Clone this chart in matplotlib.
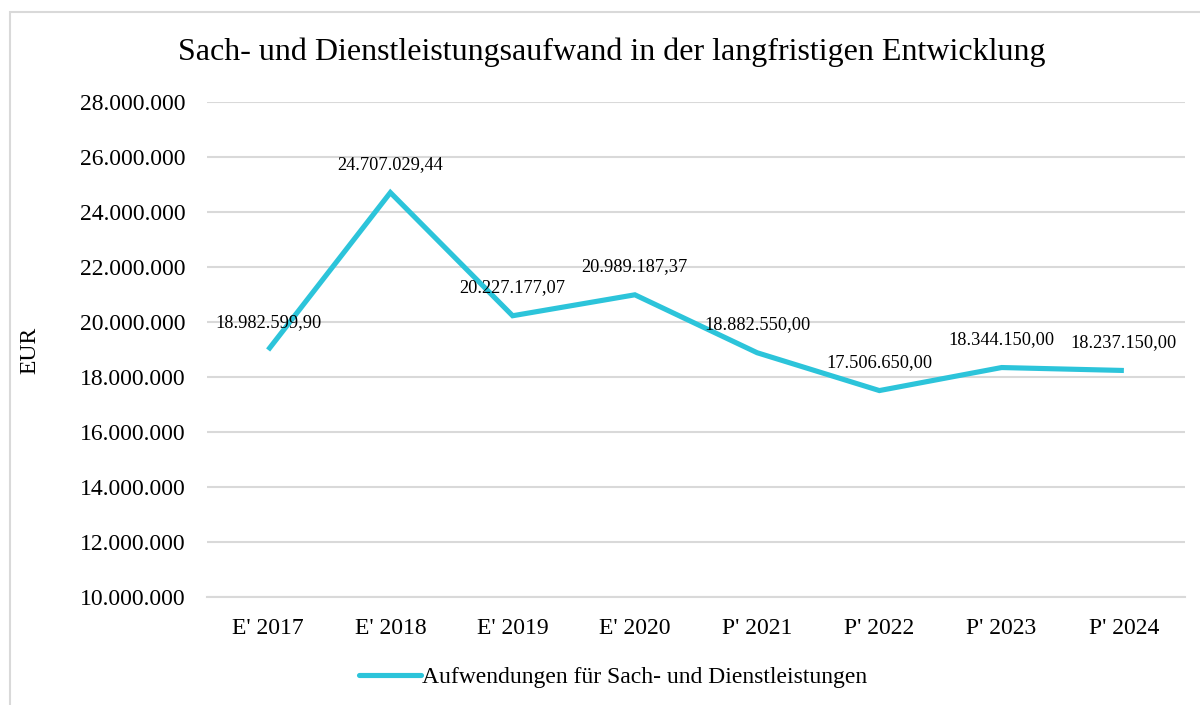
import matplotlib
matplotlib.use("Agg")
import matplotlib.pyplot as plt
from matplotlib.patches import Rectangle
from matplotlib.lines import Line2D
from matplotlib.ticker import FuncFormatter

categories = ["E' 2017", "E' 2018", "E' 2019", "E' 2020", "P' 2021", "P' 2022", "P' 2023", "P' 2024"]
values = [18982599.90, 24707029.44, 20227177.07, 20989187.37, 18882550.00, 17506650.00, 18344150.00, 18237150.00]
value_labels = ["18.982.599,90", "24.707.029,44", "20.227.177,07", "20.989.187,37",
                "18.882.550,00", "17.506.650,00", "18.344.150,00", "18.237.150,00"]
y_ticks = [10000000, 12000000, 14000000, 16000000, 18000000, 20000000, 22000000, 24000000, 26000000, 28000000]
title = "Sach- und Dienstleistungsaufwand in der langfristigen Entwicklung"
series_name = "Aufwendungen für Sach- und Dienstleistungen"

plt.rcParams['font.family'] = ['Liberation Serif', 'DejaVu Serif']
color = "#2CC4DA"

fig = plt.figure(figsize=(12, 7.05), dpi=100)
fig.patches.append(Rectangle((10/1200, -0.1), 1.2, 1.1 - 12/705, transform=fig.transFigure,
                             fill=False, edgecolor="#D9D9D9", linewidth=1.5, zorder=0))

ax = fig.add_axes([207/1200, 1 - 597/705, 978/1200, (597 - 102)/705])
x = list(range(len(categories)))
ax.plot(x, values, color=color, linewidth=3.7, solid_joinstyle='miter', solid_capstyle='butt', zorder=3)
ax.set_xlim(-0.5, len(categories) - 0.5)
ax.set_ylim(10000000, 28000000)
ax.set_yticks(y_ticks)
ax.yaxis.set_major_formatter(FuncFormatter(lambda v, p: f"{int(v):,}".replace(",", ".")))
ax.set_xticks(x)
ax.set_xticklabels(categories)
ax.tick_params(axis='both', length=0, labelsize=17, colors="black")
ax.tick_params(axis='y', pad=15.5)
ax.tick_params(axis='x', pad=15)
ax.grid(axis='y', color="#D9D9D9", linewidth=1.5)
ax.set_axisbelow(True)
for s in ax.spines.values():
    s.set_visible(False)
ax.spines['bottom'].set_visible(True)
ax.spines['bottom'].set_color("#D9D9D9")
ax.spines['bottom'].set_linewidth(1.5)

for xi, v, lab in zip(x, values, value_labels):
    ax.annotate(lab, (xi, v), xytext=(0, 20), textcoords='offset points',
                ha='center', va='center', fontsize=13.2, color="black", zorder=4)

fig.text(612/1200, 1 - 52/705, title, ha='center', va='center', fontsize=23)
fig.text(30/1200, 1 - 350/705, "EUR", rotation=90, ha='center', va='center', fontsize=17)

handle = Line2D([], [], color=color, linewidth=3.7, solid_capstyle='round')
fig.legend([handle], [series_name], loc='center', bbox_to_anchor=(0.511, 1 - 677/705),
           frameon=False, fontsize=17, handlelength=2.6, handletextpad=0.05)

fig.savefig("out.png", dpi=100)
